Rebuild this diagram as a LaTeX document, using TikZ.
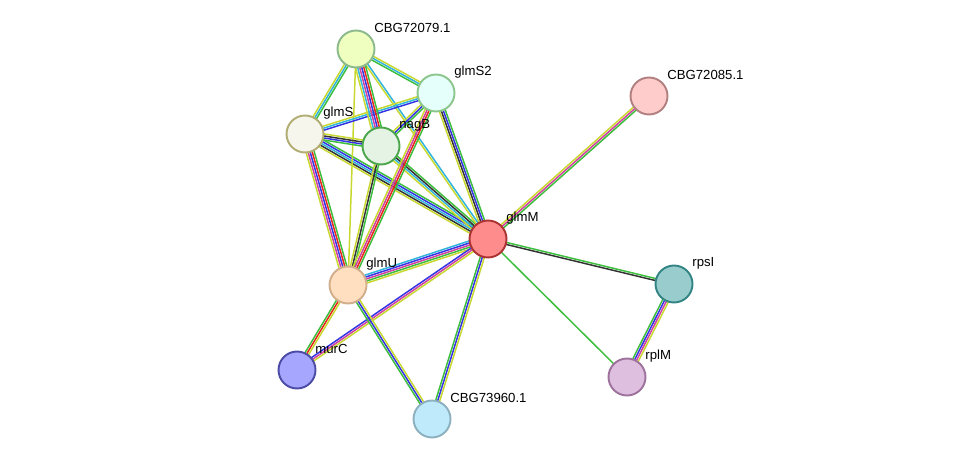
\documentclass[tikz,border=0pt]{standalone}
\usepackage{fontspec}
\setmainfont{Liberation Sans}
\usetikzlibrary{calc}
\definecolor{cgreen}{HTML}{3DBE3D}
\definecolor{cred}{HTML}{E8271C}
\definecolor{cblue}{HTML}{3434E4}
\definecolor{cblack}{HTML}{333333}
\definecolor{cmag}{HTML}{D040A0}
\definecolor{ccyan}{HTML}{30B4DC}
\definecolor{cyel}{HTML}{C8D830}
\tikzset{
  prot/.style={circle, minimum size=0.74cm, inner sep=0pt, line width=1.1pt},
  lbl/.style={anchor=west, inner sep=0pt, font=\fontsize{7.5}{9}\selectfont},
  strand/.style={line width=0.85pt}
}
% multi-coloured link: #1,#2 ends, #3 number of strands, #4 colours
\newcommand{\link}[4]{%
  \foreach \c [count=\i] in {#4} {
    \pgfmathsetmacro{\o}{(\i-(#3+1)/2)*1.15}
    \draw[strand, \c] ($(#1)!\o pt!90:(#2)$) -- ($(#2)!\o pt!-90:(#1)$);
  }}
\newcommand{\protein}[4]{%
  \node[prot, fill=#2, draw=#3] (#1n) at (#1) {};
  \node[lbl] at ([shift={(18,-21)}]#1) {#4};}
\begin{document}
\begin{tikzpicture}[x=0.02cm, y=-0.02cm]
  \useasboundingbox (0,0) rectangle (976,465);

  \coordinate (c79) at (356,49);
  \coordinate (gs2) at (436,93);
  \coordinate (c85) at (649,96);
  \coordinate (gms) at (305,134);
  \coordinate (nag) at (381,146);
  \coordinate (gmm) at (488,239);
  \coordinate (gmu) at (348,285);
  \coordinate (rps) at (674,284);
  \coordinate (mur) at (297,370);
  \coordinate (rpl) at (627,377);
  \coordinate (c60) at (432,419);

  % links
  \link{gmm}{c85}{3}{cgreen,cmag,cyel}
  \link{gmm}{rps}{2}{cblack,cgreen}
  \link{gmm}{rpl}{1}{cgreen}
  \link{rps}{rpl}{4}{cgreen,cblue,cmag,cyel}
  \link{gmm}{c60}{3}{cgreen,cblue,cyel}
  \link{gmm}{gmu}{5}{ccyan,cblue,cmag,cgreen,cyel}
  \link{gmm}{mur}{3}{cblue,cmag,cyel}
  \link{gmm}{gms}{5}{cgreen,cblue,ccyan,cblack,cyel}
  \link{gmm}{nag}{4}{cgreen,cblack,ccyan,cyel}
  \link{gmm}{gs2}{4}{cgreen,cblue,cblack,cyel}
  \link{gmm}{c79}{2}{ccyan,cyel}
  \link{gmu}{gms}{5}{cgreen,cred,cblue,cmag,cyel}
  \link{gmu}{nag}{3}{cgreen,cblack,cyel}
  \link{gmu}{gs2}{4}{cgreen,cred,cmag,cyel}
  \link{gmu}{c79}{1}{cyel}
  \link{gmu}{mur}{3}{cgreen,cred,cyel}
  \link{gmu}{c60}{3}{cgreen,cblue,cyel}
  \link{gms}{c79}{3}{cgreen,ccyan,cyel}
  \link{gms}{gs2}{3}{cblue,ccyan,cyel}
  \link{gms}{nag}{4}{cgreen,cblue,cblack,cyel}
  \link{nag}{c79}{6}{cgreen,cred,cblue,cmag,ccyan,cyel}
  \link{nag}{gs2}{3}{cgreen,cblue,cyel}
  \link{c79}{gs2}{3}{cgreen,ccyan,cyel}

  % proteins
  \protein{c79}{green!25!yellow!25}{green!40!black!45}{CBG72079.1}
  \protein{gs2}{green!15!cyan!10!white}{green!50!black!45}{glmS2}
  \protein{c85}{red!20}{red!40!black!50}{CBG72085.1}
  \protein{gms}{yellow!50!black!10!white!80}{yellow!50!black!70}{glmS}
  \protein{nag}{green!55!black!15!white!70}{green!50!black!70}{nagB}
  \protein{gmm}{red!45}{red!60!black!80}{glmM}
  \protein{gmu}{orange!25}{orange!60!black!45}{glmU}
  \protein{rps}{teal!40}{teal!80!black!80}{rpsI}
  \protein{mur}{blue!35!white}{blue!50!black!70}{murC}
  \protein{rpl}{violet!25}{violet!60!black!55}{rplM}
  \protein{c60}{cyan!25}{cyan!50!black!55}{CBG73960.1}
\end{tikzpicture}
\end{document}
